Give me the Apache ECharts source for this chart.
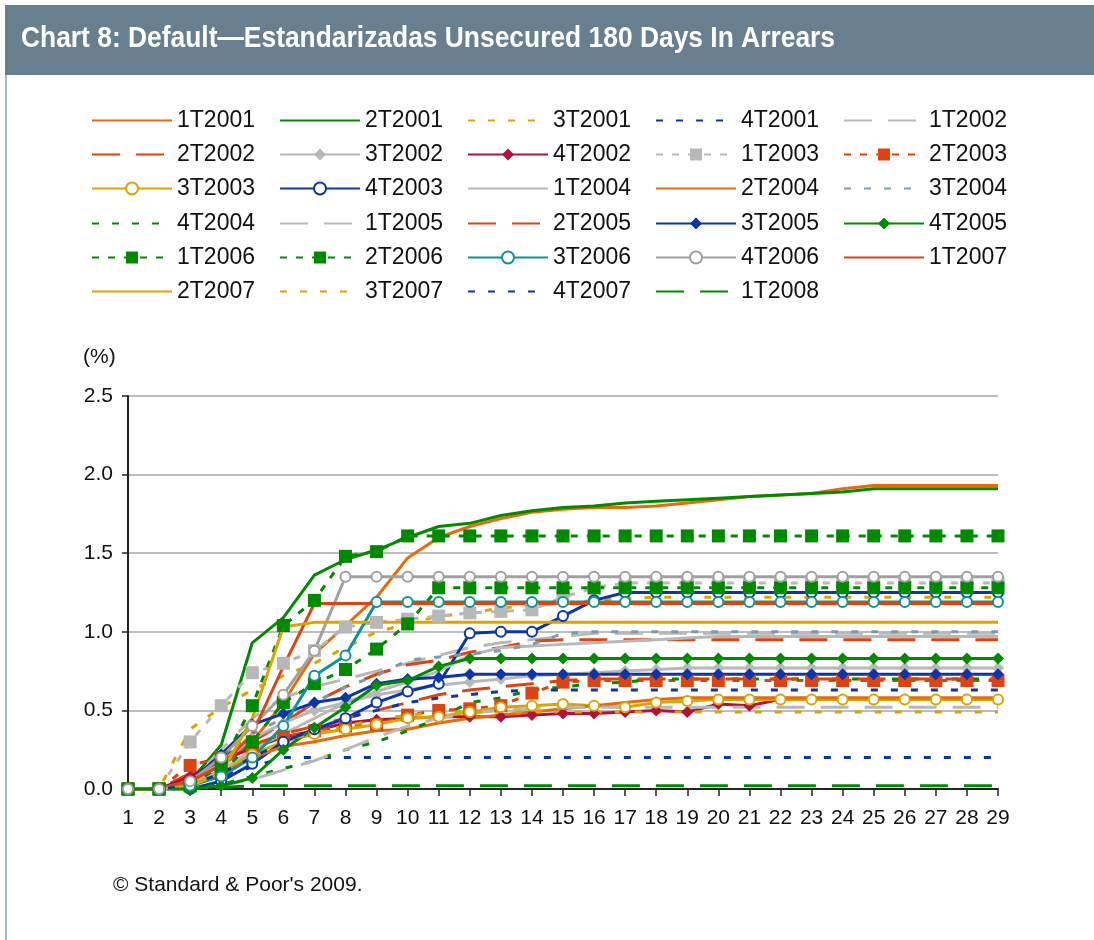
<!DOCTYPE html>
<html lang="es">
<head>
<meta charset="UTF-8">
<title>Chart 8: Default—Estandarizadas Unsecured 180 Days In Arrears</title>
<script src="https://cdn.jsdelivr.net/npm/echarts@6/dist/echarts.min.js"></script>
<style>
  * { margin: 0; padding: 0; box-sizing: border-box; }
  html, body { width: 1094px; height: 940px; background: #fff; overflow: hidden; }
  #chart { width: 1094px; height: 940px; }
</style>
</head>
<body>
<div id="chart"></div>
<script>
// categories (months on book)
const categories = ['1','2','3','4','5','6','7','8','9','10','11','12','13','14','15','16','17','18','19','20','21','22','23','24','25','26','27','28','29'];

// cumulative default rate (%) per vintage
const d1T2001 = [0,0,0.05,0.15,0.30,0.55,0.86,1.04,1.22,1.47,1.60,1.67,1.72,1.76,1.78,1.79,1.79,1.80,1.82,1.84,1.86,1.87,1.88,1.91,1.93,1.93,1.93,1.93,1.93];
const d2T2001 = [0,0,0.05,0.28,0.93,1.09,1.36,1.46,1.52,1.60,1.67,1.69,1.74,1.77,1.79,1.80,1.82,1.83,1.84,1.85,1.86,1.87,1.88,1.89,1.91,1.91,1.91,1.91,1.91];
const d3T2001 = [0,0,0.38,0.52,0.63,0.72,0.80,0.90,1.00,1.05,1.10,1.12,1.15,1.17,1.18,1.20,1.21,1.22,1.22,1.22,1.22,1.22,1.22,1.22,1.22,1.22,1.22,1.22,1.22];
const d4T2001 = [0,0,0.03,0.08,0.14,0.20,0.20,0.20,0.20,0.20,0.20,0.20,0.20,0.20,0.20,0.20,0.20,0.20,0.20,0.20,0.20,0.20,0.20,0.20,0.20,0.20,0.20,0.20,0.20];
const d1T2002 = [0,0,0.05,0.25,0.45,0.58,0.65,0.70,0.75,0.80,0.85,0.90,0.93,0.95,0.97,0.99,0.99,0.99,0.99,0.99,0.99,0.99,0.99,0.99,0.99,0.99,0.99,0.99,0.99];
const d2T2002 = [0,0,0.10,0.20,0.30,0.42,0.55,0.65,0.73,0.79,0.82,0.87,0.90,0.94,0.95,0.95,0.95,0.95,0.95,0.95,0.95,0.95,0.95,0.95,0.95,0.95,0.95,0.95,0.95];
const d3T2002 = [0,0,0.05,0.18,0.32,0.42,0.50,0.55,0.60,0.63,0.66,0.68,0.70,0.72,0.73,0.74,0.75,0.76,0.77,0.77,0.77,0.77,0.77,0.77,0.77,0.77,0.77,0.77,0.77];
const d4T2002 = [0,0,0.08,0.18,0.26,0.33,0.37,0.42,0.44,0.45,0.46,0.46,0.46,0.47,0.48,0.48,0.49,0.50,0.49,0.54,0.53,0.57,0.57,0.57,0.57,0.57,0.57,0.57,0.57];
const d1T2003 = [0,0,0.30,0.53,0.74,0.80,0.88,1.03,1.06,1.08,1.10,1.12,1.13,1.14,1.22,1.28,1.31,1.31,1.31,1.31,1.31,1.31,1.31,1.31,1.31,1.31,1.31,1.31,1.31];
const d2T2003 = [0,0,0.15,0.20,0.27,0.33,0.37,0.40,0.41,0.47,0.50,0.51,0.53,0.61,0.68,0.69,0.69,0.69,0.69,0.69,0.69,0.69,0.69,0.69,0.69,0.69,0.69,0.69,0.69];
const d3T2003 = [0,0,0.03,0.12,0.22,0.30,0.35,0.38,0.41,0.45,0.46,0.49,0.52,0.53,0.54,0.53,0.52,0.55,0.56,0.57,0.57,0.57,0.57,0.57,0.57,0.57,0.57,0.57,0.57];
const d4T2003 = [0,0,0,0.05,0.16,0.30,0.38,0.45,0.55,0.62,0.67,0.99,1.00,1.00,1.10,1.20,1.25,1.25,1.25,1.25,1.25,1.25,1.25,1.25,1.25,1.25,1.25,1.25,1.25];
const d1T2004 = [0,0,0.02,0.12,0.25,0.35,0.45,0.55,0.62,0.68,0.75,0.85,0.90,0.91,0.92,0.93,0.94,0.95,0.96,0.97,0.97,0.97,0.97,0.97,0.97,0.97,0.97,0.97,0.97];
const d2T2004 = [0,0,0.02,0.10,0.20,0.27,0.30,0.34,0.37,0.38,0.42,0.45,0.47,0.49,0.51,0.53,0.55,0.57,0.58,0.58,0.58,0.58,0.58,0.58,0.58,0.58,0.58,0.58,0.58];
const d3T2004 = [0,0,0.05,0.20,0.35,0.45,0.55,0.65,0.72,0.82,0.84,0.86,0.88,0.92,0.99,1.00,1.00,1.00,1.00,1.00,1.00,1.00,1.00,1.00,1.00,1.00,1.00,1.00,1.00];
const d4T2004 = [0,0,0,0.03,0.08,0.13,0.18,0.25,0.30,0.37,0.45,0.55,0.58,0.63,0.65,0.67,0.68,0.70,0.70,0.70,0.70,0.70,0.70,0.70,0.70,0.70,0.70,0.70,0.70];
const d1T2005 = [0,0,0,0.02,0.06,0.12,0.18,0.25,0.33,0.40,0.45,0.48,0.50,0.51,0.52,0.52,0.52,0.52,0.52,0.52,0.52,0.52,0.52,0.52,0.52,0.52,0.52,0.52,0.52];
const d2T2005 = [0,0,0.05,0.15,0.28,0.35,0.40,0.45,0.50,0.55,0.60,0.63,0.65,0.67,0.69,0.70,0.70,0.70,0.70,0.70,0.70,0.70,0.70,0.70,0.70,0.70,0.70,0.70,0.70];
const d3T2005 = [0,0,0.05,0.22,0.41,0.48,0.55,0.58,0.67,0.70,0.71,0.73,0.73,0.73,0.73,0.73,0.73,0.73,0.73,0.73,0.73,0.73,0.73,0.73,0.73,0.73,0.73,0.73,0.73];
const d4T2005 = [0,0,0,0.02,0.07,0.25,0.39,0.52,0.66,0.69,0.78,0.83,0.83,0.83,0.83,0.83,0.83,0.83,0.83,0.83,0.83,0.83,0.83,0.83,0.83,0.83,0.83,0.83,0.83];
const d1T2006 = [0,0,0.02,0.10,0.30,0.55,0.67,0.76,0.89,1.05,1.28,1.28,1.28,1.28,1.28,1.28,1.28,1.28,1.28,1.28,1.28,1.28,1.28,1.28,1.28,1.28,1.28,1.28,1.28];
const d2T2006 = [0,0,0.02,0.15,0.53,1.04,1.20,1.48,1.51,1.61,1.61,1.61,1.61,1.61,1.61,1.61,1.61,1.61,1.61,1.61,1.61,1.61,1.61,1.61,1.61,1.61,1.61,1.61,1.61];
const d3T2006 = [0,0,0.02,0.08,0.20,0.40,0.72,0.85,1.19,1.19,1.19,1.19,1.19,1.19,1.19,1.19,1.19,1.19,1.19,1.19,1.19,1.19,1.19,1.19,1.19,1.19,1.19,1.19,1.19];
const d4T2006 = [0,0,0.05,0.20,0.40,0.60,0.88,1.35,1.35,1.35,1.35,1.35,1.35,1.35,1.35,1.35,1.35,1.35,1.35,1.35,1.35,1.35,1.35,1.35,1.35,1.35,1.35,1.35,1.35];
const d1T2007 = [0,0,0.05,0.15,0.35,0.78,1.18,1.18,1.18,1.18,1.18,1.18,1.18,1.18,1.18,1.18,1.18,1.18,1.18,1.18,1.18,1.18,1.18,1.18,1.18,1.18,1.18,1.18,1.18];
const d2T2007 = [0,0,0.02,0.10,0.45,1.03,1.06,1.06,1.06,1.06,1.06,1.06,1.06,1.06,1.06,1.06,1.06,1.06,1.06,1.06,1.06,1.06,1.06,1.06,1.06,1.06,1.06,1.06,1.06];
const d3T2007 = [0,0,0.02,0.10,0.20,0.30,0.36,0.40,0.44,0.47,0.49,0.49,0.49,0.49,0.49,0.49,0.49,0.49,0.49,0.49,0.49,0.49,0.49,0.49,0.49,0.49,0.49,0.49,0.49];
const d4T2007 = [0,0,0.02,0.10,0.20,0.30,0.38,0.45,0.50,0.55,0.58,0.60,0.62,0.63,0.63,0.63,0.63,0.63,0.63,0.63,0.63,0.63,0.63,0.63,0.63,0.63,0.63,0.63,0.63];
const d1T2008 = [0,0,0,0.01,0.02,0.02,0.02,0.02,0.02,0.02,0.02,0.02,0.02,0.02,0.02,0.02,0.02,0.02,0.02,0.02,0.02,0.02,0.02,0.02,0.02,0.02,0.02,0.02,0.02];

const seriesNames = ['1T2001','2T2001','3T2001','4T2001','1T2002','2T2002','3T2002','4T2002','1T2003','2T2003',
  '3T2003','4T2003','1T2004','2T2004','3T2004','4T2004','1T2005','2T2005','3T2005','4T2005',
  '1T2006','2T2006','3T2006','4T2006','1T2007','2T2007','3T2007','4T2007','1T2008'];
const seriesValues = [d1T2001,d2T2001,d3T2001,d4T2001,d1T2002,d2T2002,d3T2002,d4T2002,d1T2003,d2T2003,
  d3T2003,d4T2003,d1T2004,d2T2004,d3T2004,d4T2004,d1T2005,d2T2005,d3T2005,d4T2005,
  d1T2006,d2T2006,d3T2006,d4T2006,d1T2007,d2T2007,d3T2007,d4T2007,d1T2008];

// colours and line looks
const ORANGE = '#E46C0A', GREEN = '#008A00', GOLD = '#DCA400', BLUE = '#0B36A8',
  GRAY = '#B8B8B8', REDOR = '#DC4512', CRIMSON = '#B0123C', TEAL = '#0E9494',
  STEEL = '#7E9AAE', DGRAY = '#A0A0A0';
const SHORT = [7, 13], LONG = [28, 16], SQDASH = [7, 9];
const looks = {
  '1T2001': { c: ORANGE }, '2T2001': { c: GREEN }, '3T2001': { c: GOLD, dash: SHORT },
  '4T2001': { c: BLUE, dash: SHORT }, '1T2002': { c: GRAY, dash: LONG }, '2T2002': { c: REDOR, dash: LONG },
  '3T2002': { c: GRAY, sym: 'diamond' }, '4T2002': { c: CRIMSON, sym: 'diamond' },
  '1T2003': { c: GRAY, dash: SQDASH, sym: 'rect' }, '2T2003': { c: REDOR, dash: SQDASH, sym: 'rect' },
  '3T2003': { c: GOLD, sym: 'emptyCircle' }, '4T2003': { c: BLUE, sym: 'emptyCircle' },
  '1T2004': { c: GRAY }, '2T2004': { c: ORANGE }, '3T2004': { c: STEEL, dash: SHORT },
  '4T2004': { c: GREEN, dash: SHORT }, '1T2005': { c: GRAY, dash: LONG }, '2T2005': { c: REDOR, dash: LONG },
  '3T2005': { c: BLUE, sym: 'diamond' }, '4T2005': { c: GREEN, sym: 'diamond' },
  '1T2006': { c: GREEN, dash: SQDASH, sym: 'rect' }, '2T2006': { c: GREEN, dash: SQDASH, sym: 'rect' },
  '3T2006': { c: TEAL, sym: 'emptyCircle' }, '4T2006': { c: DGRAY, sym: 'emptyCircle' },
  '1T2007': { c: REDOR }, '2T2007': { c: GOLD }, '3T2007': { c: GOLD, dash: SHORT },
  '4T2007': { c: BLUE, dash: SHORT }, '1T2008': { c: GREEN, dash: LONG }
};
const symbolSizes = { rect: 13, diamond: 12, emptyCircle: 10 };

const FONT = '"Liberation Sans", Arial, sans-serif';

const chart = echarts.init(document.getElementById('chart'), null, { renderer: 'canvas' });

const series = seriesNames.map((name, i) => {
  const lk = looks[name];
  return {
    name: name,
    type: 'line',
    data: seriesValues[i],
    symbol: lk.sym || 'none',
    symbolSize: lk.sym ? symbolSizes[lk.sym] : 0,
    showAllSymbol: true,
    lineStyle: { color: lk.c, width: 3, type: lk.dash || 'solid' },
    itemStyle: { color: lk.c, borderWidth: lk.sym === 'emptyCircle' ? 2 : 0 },
    emphasis: { disabled: true },
    animation: false
  };
});

// legend: 6 rows x 5 columns; plain lines get no marker in their key
const legendRowCenters = [121, 155, 189, 224, 258, 292];
const legends = legendRowCenters.map((cy, r) => ({
  data: seriesNames.slice(r * 5, r * 5 + 5).map(n => looks[n].sym
    ? { name: n }
    : { name: n, itemStyle: { color: 'rgba(0,0,0,0)', borderWidth: 0 } }),
  orient: 'horizontal',
  left: 91,
  top: cy - 12,
  padding: 0,
  itemWidth: 80,
  itemHeight: 15,
  itemGap: 24,
  selectedMode: false,
  textStyle: { fontSize: 23, color: '#111', fontFamily: FONT }
}));

chart.setOption({
  backgroundColor: '#fff',
  animation: false,
  textStyle: { fontFamily: FONT },
  graphic: [
    { type: 'rect', shape: { x: 5, y: 5, width: 1089, height: 70 }, style: { fill: '#687F90' }, silent: true },
    { type: 'rect', shape: { x: 5, y: 75, width: 2, height: 865 }, style: { fill: '#A9B6C0' }, silent: true },
    { type: 'text', x: 21, y: 24, scaleX: 0.91,
      style: { text: 'Chart 8: Default\u2014Estandarizadas Unsecured 180 Days In Arrears', fill: '#fff',
        font: 'bold 29px ' + FONT, verticalAlign: 'top' } },
    { type: 'text', left: 83, top: 347,
      style: { text: '(%)', fill: '#111', font: '21px ' + FONT } },
    { type: 'text', left: 113, top: 875,
      style: { text: '\u00A9 Standard & Poor\'s 2009.', fill: '#111', font: '21px ' + FONT } }
  ],
  legend: legends,
  grid: { left: 128, right: 96, top: 396, bottom: 151, containLabel: false },
  xAxis: {
    type: 'category',
    data: categories,
    boundaryGap: false,
    axisLine: { lineStyle: { color: '#222', width: 2 } },
    axisTick: { show: true, length: 7, interval: 0, lineStyle: { color: '#222', width: 1.5 } },
    axisLabel: { interval: 0, fontSize: 21, color: '#111', margin: 19, fontFamily: FONT },
    splitLine: { show: false }
  },
  yAxis: {
    type: 'value',
    min: 0,
    max: 2.5,
    interval: 0.5,
    axisLine: { show: true, lineStyle: { color: '#222', width: 2 } },
    axisTick: { show: true, length: 6, lineStyle: { color: '#222', width: 1.5 } },
    axisLabel: { fontSize: 21, color: '#111', margin: 15, fontFamily: FONT, formatter: v => v.toFixed(1) },
    splitLine: { show: true, lineStyle: { color: '#A8A8A8', width: 1.5 } }
  },
  series: series
});
</script>
</body>
</html>
